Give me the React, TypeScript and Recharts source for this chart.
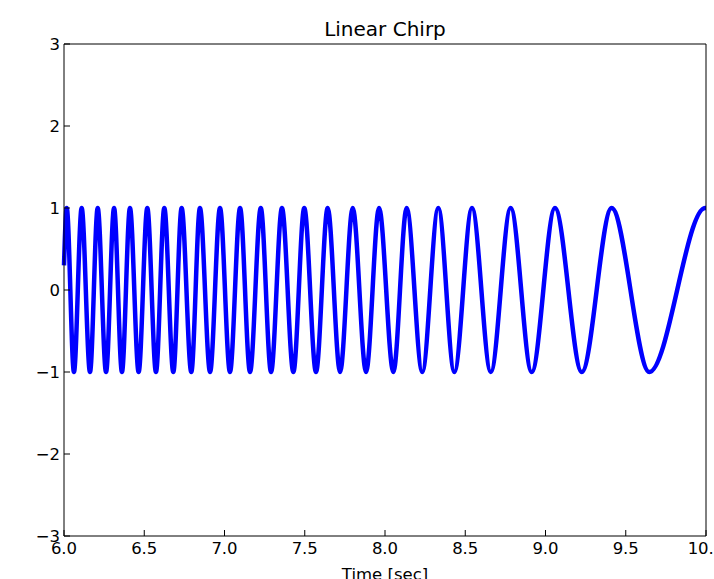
import React from 'react';
import { LineChart, Line, XAxis, YAxis } from 'recharts';

// time [sec] of the start, every peak / trough, and the end of the trace
const TIME = [
  6.0, 6.017, 6.062, 6.11, 6.162, 6.21, 6.262, 6.312, 6.361, 6.411, 6.465,
  6.519, 6.573, 6.625, 6.681, 6.733, 6.793, 6.847, 6.91, 6.972, 7.034,
  7.097, 7.159, 7.226, 7.29, 7.358, 7.429, 7.497, 7.57, 7.643, 7.72,
  7.799, 7.882, 7.963, 8.052, 8.135, 8.232, 8.332, 8.432, 8.542, 8.659,
  8.783, 8.914, 9.059, 9.226, 9.412, 9.647, 9.994, 10.0,
];

const SIGNAL = [
  0.3, 1, -1, 1, -1, 1, -1, 1, -1, 1, -1,
  1, -1, 1, -1, 1, -1, 1, -1, 1, -1,
  1, -1, 1, -1, 1, -1, 1, -1, 1, -1,
  1, -1, 1, -1, 1, -1, 1, -1, 1, -1,
  1, -1, 1, -1, 1, -1, 1, 1,
];

const X_TICKS = [6.0, 6.5, 7.0, 7.5, 8.0, 8.5, 9.0, 9.5, 10.0];
const Y_TICKS = [-3, -2, -1, 0, 1, 2, 3];

const data = TIME.map((t, i) => ({ t, w: SIGNAL[i] }));

const FONT = '"DejaVu Sans", sans-serif';
const tickStyle = { fontSize: 16.5, fill: '#000', fontFamily: FONT };
const lineStyle = { stroke: '#000', strokeWidth: 1 };

const fmtY = (v: number) => (v < 0 ? '\u2212' + Math.abs(v) : String(v));

export default function App() {
  return (
    <div style={{ position: 'absolute', left: 0, top: 0, width: 714, height: 579, overflow: 'hidden', background: '#fff' }}>
      <div
        style={{
          position: 'absolute', left: 0, width: 770, top: 19, textAlign: 'center',
          fontFamily: FONT, fontSize: 20, lineHeight: '20px', color: '#000',
        }}
      >
        Linear Chirp
      </div>
      <LineChart width={714} height={579} data={data} margin={{ top: 0, right: 0, bottom: 0, left: 0 }}>
        <XAxis
          xAxisId="top" orientation="top" dataKey="t" type="number" domain={[6, 10]}
          ticks={X_TICKS} height={44} tick={false} tickSize={-6}
          axisLine={lineStyle} tickLine={lineStyle}
        />
        <XAxis
          xAxisId="bottom" orientation="bottom" dataKey="t" type="number" domain={[6, 10]}
          ticks={X_TICKS} interval={0} height={43} tickSize={-6} tickMargin={12}
          tick={tickStyle} tickFormatter={(v: number) => v.toFixed(1)}
          axisLine={lineStyle} tickLine={lineStyle}
        />
        <YAxis
          yAxisId="left" orientation="left" type="number" domain={[-3, 3]}
          ticks={Y_TICKS} interval={0} width={64} tickSize={-6} tickMargin={10}
          tick={tickStyle} tickFormatter={fmtY}
          axisLine={lineStyle} tickLine={lineStyle}
        />
        <YAxis
          yAxisId="right" orientation="right" type="number" domain={[-3, 3]}
          ticks={Y_TICKS} width={8} tick={false} tickSize={-6}
          axisLine={lineStyle} tickLine={lineStyle}
        />
        <Line
          xAxisId="bottom" yAxisId="left" type="monotone" dataKey="w"
          stroke="#0000ff" strokeWidth={4.5} dot={false} activeDot={false}
          isAnimationActive={false}
        />
      </LineChart>
      <div
        style={{
          position: 'absolute', left: 0, width: 770, top: 566, textAlign: 'center',
          fontFamily: FONT, fontSize: 16.5, lineHeight: '17px', color: '#000',
        }}
      >
        Time [sec]
      </div>
    </div>
  );
}
